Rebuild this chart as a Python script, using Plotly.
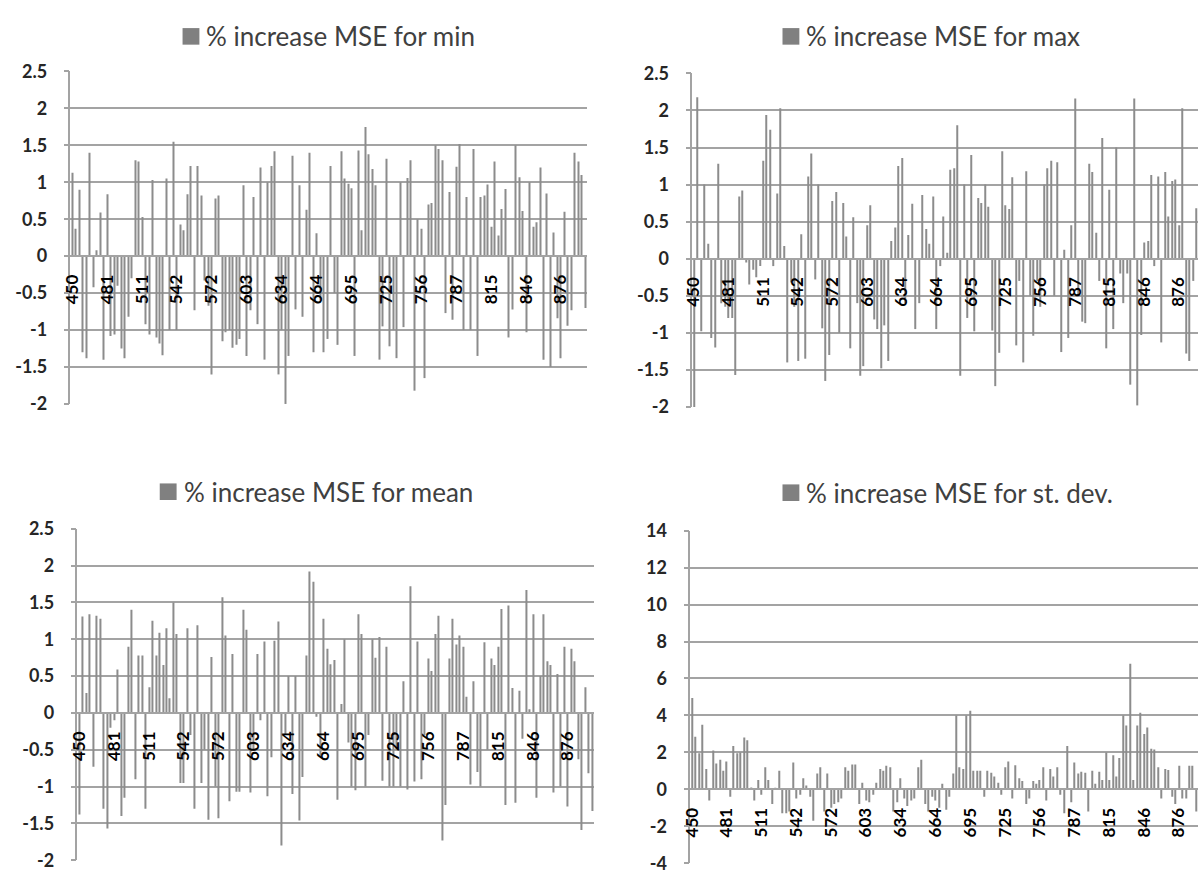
import plotly.graph_objects as go

# ---------------- data ----------------
WAVELENGTHS = [
    "450", "453", "456", "459", "462", "465", "469", "472", "475", "478",
    "481", "484", "487", "490", "493", "496", "499", "502", "505", "508",
    "511", "514", "517", "520", "523", "527", "530", "533", "536", "539",
    "542", "545", "548", "551", "554", "557", "560", "563", "566", "569",
    "572", "575", "578", "581", "584", "588", "591", "594", "597", "600",
    "603", "606", "609", "612", "615", "618", "621", "625", "628", "631",
    "634", "637", "640", "643", "646", "649", "652", "655", "658", "661",
    "664", "667", "670", "673", "676", "679", "683", "686", "689", "692",
    "695", "698", "701", "704", "707", "710", "713", "716", "719", "722",
    "725", "728", "731", "734", "738", "741", "744", "747", "750", "753",
    "756", "759", "762", "765", "768", "771", "774", "777", "781", "784",
    "787", "790", "792", "795", "798", "801", "804", "807", "809", "812",
    "815", "818", "821", "824", "827", "830", "833", "837", "840", "843",
    "846", "849", "852", "855", "858", "861", "864", "867", "870", "873",
    "876", "879", "882", "885", "888", "891", "894", "897",
]

TICK_LABELS = ["450", "481", "511", "542", "572", "603", "634", "664",
               "695", "725", "756", "787", "815", "846", "876"]

MSE_MIN = [
    1.13, 0.37, 0.9, -1.3, -1.38, 1.4, -0.42, 0.08, 0.59, -1.4,
    0.84, -1.08, -1.06, -0.4, -1.25, -1.38, -0.82, -0.3, 1.3, 1.28,
    0.53, -0.92, -1.06, 1.03, -1.1, -1.18, -1.34, 1.05, -1.0, 1.55,
    -1.0, 0.43, 0.35, 0.84, 1.22, -0.73, 1.22, 0.82, -0.33, -0.67,
    -1.6, 0.78, 0.82, -1.15, -1.03, -1.0, -1.24, -1.2, -1.12, 0.96,
    -1.35, -0.73, 0.8, -0.92, 1.2, -1.4, 1.0, 1.22, 1.42, -1.6,
    -1.0, -2.0, -1.35, 1.36, -0.72, 0.96, -0.82, 0.63, 1.4, -1.3,
    0.31, -0.6, -1.3, -1.12, 1.22, -0.5, -1.2, 1.42, 1.05, 0.98,
    0.92, -1.35, 1.43, 0.35, 1.75, 1.38, 1.18, 0.96, -1.4, -0.95,
    1.32, -1.22, -1.0, -1.38, 1.0, -0.96, 1.06, 1.3, -1.82, 0.5,
    0.37, -1.65, 0.7, 0.72, 1.5, 1.45, 1.3, -0.77, 0.87, -0.86,
    1.21, 1.52, -1.0, 0.8, -1.0, 1.45, -1.35, 0.8, 0.82, 0.97,
    0.4, 1.28, 0.28, 0.64, 0.91, -1.1, -0.72, 1.5, 1.07, 0.61,
    -1.03, 1.0, 0.4, 0.46, 1.2, -1.4, 0.85, -1.5, 0.32, -0.84,
    -1.38, 0.6, -0.94, -0.73, 1.4, 1.28, 1.1, -0.7,
]

MSE_MAX = [
    -2.0, 2.18, -0.98, 1.0, 0.2, -1.07, -1.2, 1.28, -0.6, -0.65,
    -0.8, -0.8, -1.57, 0.84, 0.92, -0.05, -0.35, -0.15, -0.25, -0.1,
    1.32, 1.94, 1.74, -0.1, 0.88, 2.03, 0.17, -1.4, -0.32, -0.65,
    -1.38, 0.33, -1.35, 1.11, 1.42, -0.28, 1.0, -0.94, -1.65, -1.3,
    0.78, 0.9, -1.0, 0.75, 0.3, -1.21, 0.56, -0.6, -1.58, -1.45,
    0.45, 0.72, -0.82, -0.95, -1.48, -0.9, -1.38, 0.24, 0.42, 1.25,
    1.36, -0.6, 0.32, 0.74, -0.95, -0.6, 0.86, 0.4, 0.2, 0.84,
    -0.95, -0.1, 0.57, 0.08, 1.2, 1.22, 1.8, -1.58, 1.0, -0.8,
    1.4, -0.98, 0.82, 0.75, 1.0, 0.7, -0.97, -1.72, -1.27, 1.45,
    0.72, 0.67, 1.1, -1.17, -0.3, -1.4, 1.18, -0.5, -1.04, -0.3,
    -0.65, 1.0, 1.22, 1.32, -0.5, 1.3, -1.26, 0.12, -1.07, 0.45,
    2.16, -0.5, -0.85, -0.87, 1.28, 1.17, 0.35, -0.3, 1.63, -1.21,
    0.93, -0.95, 1.5, -0.2, -0.6, -0.2, -1.7, 2.16, -1.98, -1.03,
    0.22, 0.24, 1.13, -0.1, 1.11, -1.13, 1.17, 0.57, 1.05, 1.07,
    0.45, 2.03, -1.28, -1.38, -0.3, 0.68, -0.8, 0.5,
]

MSE_MEAN = [
    -1.38, 1.31, 0.27, 1.34, -0.73, 1.32, 1.28, -1.3, -1.57, -0.2,
    -0.1, 0.59, -1.4, -1.15, 0.9, 1.4, -0.9, 0.78, 0.78, -1.3,
    0.35, 1.25, 0.78, 1.09, 0.65, 1.15, 0.2, 1.5, 1.07, -0.95,
    -0.95, 1.15, -0.3, -1.3, 1.19, -0.95, -0.5, -1.45, 0.76, -1.0,
    -1.43, 1.57, 1.05, -1.2, 0.8, -1.07, -1.07, 1.4, 1.13, -1.08,
    -0.5, 0.8, -0.1, 0.97, -1.13, -0.6, 0.98, 1.24, -1.8, -0.3,
    0.5, -1.1, 0.5, -1.46, -0.87, 0.78, 1.92, 1.78, -0.05, -0.6,
    1.28, 0.87, 0.66, 0.72, -1.18, 0.12, 1.0, -0.4, -1.0, -1.05,
    1.34, 1.07, -1.0, -0.3, 1.0, 0.75, 1.03, -0.92, 0.9, -1.0,
    -1.0, -0.5, -1.0, 0.43, -1.04, 1.72, -0.93, 0.97, -0.9, -0.3,
    0.74, 0.57, 1.07, 1.32, -1.73, -1.25, 0.74, 1.28, 0.93, 1.05,
    0.9, 0.22, -0.97, 0.43, -0.8, -1.0, 0.96, -0.5, 0.74, 0.65,
    0.9, 1.41, -1.25, 1.46, 0.34, -1.22, 0.3, -0.35, 1.67, 0.05,
    1.34, -1.15, 0.5, 1.34, 0.7, 0.65, -1.08, 0.53, -1.0, 0.9,
    -1.27, 0.87, 0.7, -0.63, -1.59, 0.35, -0.82, -1.33,
]

MSE_STDEV = [
    4.95, 2.85, 1.95, 3.5, 1.1, -0.6, 2.1, 1.4, 1.6, 1.0,
    1.5, -0.4, 2.35, 1.95, 2.0, 2.8, 2.65, 0.1, -0.6, 0.5,
    -0.3, 1.2, 0.5, -0.8, 0.05, 1.0, -1.3, -1.3, -1.2, 1.45,
    -0.5, -0.3, 0.6, 0.2, -0.4, -1.7, 0.85, 1.2, -1.2, 0.85,
    -1.0, -0.8, -0.7, -0.5, 1.2, 1.0, 1.35, 1.35, -0.8, 0.35,
    -0.6, -0.7, -0.3, 0.35, 1.1, 1.0, 1.27, 1.2, -1.2, -0.7,
    0.6, -0.5, -0.9, -0.6, -0.5, 1.2, 1.6, -0.8, -1.2, -0.4,
    -0.6, -1.0, 0.3, -1.1, -0.4, 0.85, 4.0, 1.2, 1.1, 4.0,
    4.25, 1.0, 1.0, 1.0, -0.4, 1.0, 0.9, 0.7, 0.35, -0.3,
    1.2, 1.5, -0.5, 1.3, 0.6, 0.45, -0.8, -0.5, 0.45, 0.3,
    0.5, 1.2, -0.6, 1.1, 0.7, 1.2, -0.3, -1.3, 2.35, -0.7,
    1.45, 0.85, 0.95, 0.9, -1.2, 1.0, 0.3, 0.95, 0.5, 2.0,
    0.5, 1.85, 0.7, 1.7, 4.0, 3.45, 6.8, 0.5, 3.45, 4.15,
    3.0, 3.35, 2.2, 2.15, 1.2, -0.5, 1.1, 1.05, -0.4, -0.8,
    1.27, -0.5, -0.5, 1.27, 1.27, -1.2, 1.27, -1.3,
]

SERIES_NAMES = ["% increase MSE for min", "% increase MSE for max",
                "% increase MSE for mean", "% increase MSE for st. dev."]

Y_TICKS_SMALL = [-2, -1.5, -1, -0.5, 0, 0.5, 1, 1.5, 2, 2.5]
Y_TICKS_STDEV = [-4, -2, 0, 2, 4, 6, 8, 10, 12, 14]

# ---------------- styling / layout ----------------
W, H = 1198, 881
FONT = "Lato"
BAR_COLOR = "#8c8c8c"
KEY_COLOR = "#808080"
GRID_COLOR = "#a3a3a3"

# pixel geometry of each panel: plot box, and title key (square left x, centre y)
panels = [
    dict(values=MSE_MIN, px_x=(61, 582), px_y=(61, 402), ticks=Y_TICKS_SMALL,
         xmax=147.5, key=(174, 25)),
    dict(values=MSE_MAX, px_x=(688, 1198), px_y=(63, 405), ticks=Y_TICKS_SMALL,
         xmax=145.5, key=(779, 25)),
    dict(values=MSE_MEAN, px_x=(68, 589), px_y=(530, 870), ticks=Y_TICKS_SMALL,
         xmax=147.5, key=(151, 492)),
    dict(values=MSE_STDEV, px_x=(686, 1198), px_y=(532, 873), ticks=Y_TICKS_STDEV,
         xmax=145.5, key=(779, 493)),
]

KEY = 17  # size of legend square in px

fig = go.Figure()
layout_updates = {}
shapes = []
annotations = []
for i, (p, name) in enumerate(zip(panels, SERIES_NAMES)):
    n = "" if i == 0 else str(i + 1)
    xd = [p["px_x"][0] / W, min(1.0, p["px_x"][1] / W)]
    yd = [1 - p["px_y"][1] / H, 1 - p["px_y"][0] / H]
    ymin, ymax = p["ticks"][0], p["ticks"][-1]
    zero_pos = yd[0] + (0 - ymin) / (ymax - ymin) * (yd[1] - yd[0])

    fig.add_trace(go.Bar(
        x=WAVELENGTHS, y=p["values"], name=name,
        marker=dict(color=BAR_COLOR, line=dict(width=0)),
        xaxis="x" + n, yaxis="y" + n, showlegend=False,
    ))

    layout_updates["xaxis" + n] = dict(
        domain=xd, type="category", range=[-0.5, p["xmax"]],
        anchor="free", position=zero_pos,
        tickmode="array", tickvals=TICK_LABELS, ticktext=TICK_LABELS,
        tickangle=-90, ticks="", showgrid=False, zeroline=False,
        showline=True, linecolor=GRID_COLOR, linewidth=1.5,
        tickfont=dict(family=FONT, size=17, color="#000000", weight="bold"),
        ticklabelstandoff=11,
    )
    layout_updates["yaxis" + n] = dict(
        domain=yd, range=[ymin, ymax], anchor="x" + n,
        tickmode="array", tickvals=p["ticks"], ticktext=["%g" % t for t in p["ticks"]],
        showgrid=True, gridcolor=GRID_COLOR, gridwidth=1.5,
        zeroline=False, showline=True, linecolor=GRID_COLOR, linewidth=1.5,
        ticks="outside", ticklen=5, tickcolor=GRID_COLOR, tickwidth=1.5,
        tickfont=dict(family=FONT, size=18, color="#262626", weight="bold"),
        ticklabelstandoff=13,
    )

    # series key (legend square + series name) above each panel
    kx, ky = p["key"]
    shapes.append(dict(
        type="rect", xref="paper", yref="paper",
        x0=kx / W, x1=(kx + KEY) / W,
        y0=1 - (ky + KEY / 2) / H, y1=1 - (ky - KEY / 2) / H,
        fillcolor=KEY_COLOR, line=dict(width=0),
    ))
    annotations.append(dict(
        text=name, xref="paper", yref="paper",
        x=(kx + KEY + 5) / W, y=1 - ky / H,
        xanchor="left", yanchor="middle", showarrow=False,
        font=dict(family=FONT, size=26, color="#404040"),
    ))

fig.update_layout(
    width=W, height=H,
    margin=dict(l=0, r=0, t=0, b=0),
    paper_bgcolor="white", plot_bgcolor="white",
    bargap=0.7,
    showlegend=False,
    font=dict(family=FONT),
    shapes=shapes, annotations=annotations,
    **layout_updates,
)

fig.write_html(
    "out.html",
    config={"displayModeBar": False},
    post_script="document.body.style.margin='0px';document.body.style.overflow='hidden';",
)
